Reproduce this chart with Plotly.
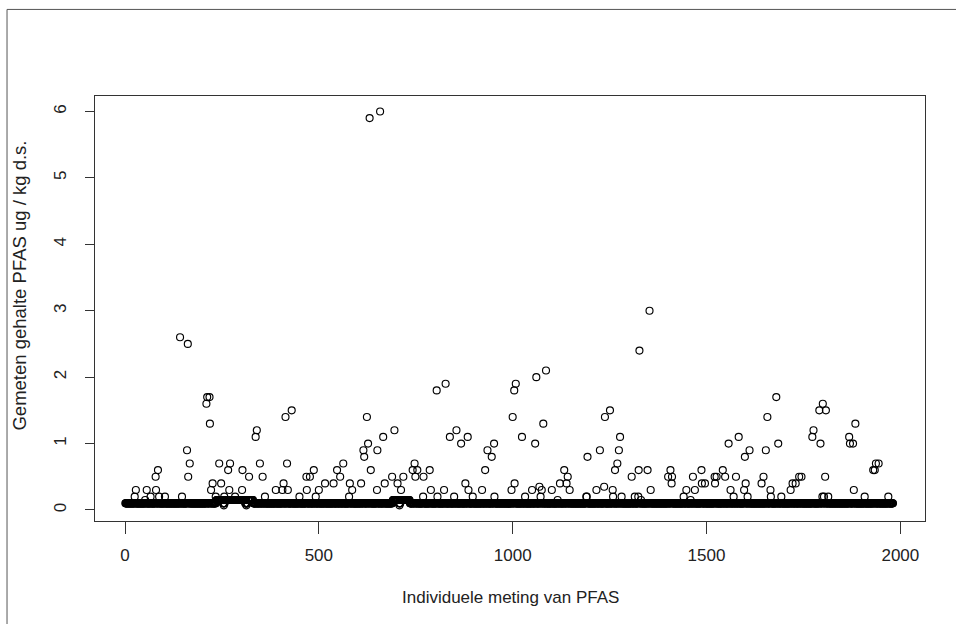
import plotly.graph_objects as go

# ---- data ----
n_measurements = 1981
baseline_value = 0.1

# stretches where the baseline sits slightly higher
raised_start = [236, 258, 317, 691, 711]
raised_end = [252, 309, 330, 706, 734]
raised_value = 0.15

# low points visible as notches under the raised stretches
low_index = [255, 313, 708]
low_value = [0.07, 0.07, 0.07]

# individual measurements above the baseline (index, value)
outlier_index = [
    142, 162, 212, 218, 210, 219, 160, 167, 163, 85, 79, 28, 25, 56, 80, 66, 103, 88, 147, 52,
    243, 271, 266, 303, 320, 226, 248, 222, 234, 269, 256, 284, 302, 340, 337, 348, 355, 361,
    414, 430, 418, 409, 389, 406, 420, 450,
    468, 477, 487, 469, 492, 500, 516, 538, 547, 563, 555, 580, 586, 578, 609, 624, 615, 617,
    627, 651, 666, 695, 634, 650, 670, 689, 703, 712, 718, 747, 742, 754, 749, 770, 786, 769,
    789, 804, 827, 806, 823, 838, 855, 867, 884, 849, 878, 886, 897, 921, 929, 935, 946, 952,
    953, 631, 658,
    1000, 1004, 1008, 1024, 1005, 997, 1032, 1050, 1058, 1061, 1086, 1079, 1069, 1075, 1072,
    1101, 1116, 1122, 1133, 1142, 1139, 1147, 1190, 1191, 1193, 1216, 1225, 1236, 1238, 1251,
    1258, 1259, 1264, 1270, 1274, 1277, 1281, 1307, 1315, 1324, 1331, 1325, 1327, 1348, 1353,
    1356, 1407, 1401, 1411, 1410, 1441, 1448, 1459, 1465, 1470, 1487, 1488, 1496,
    1521, 1526, 1522, 1542, 1548, 1576, 1562, 1570, 1557, 1583, 1597, 1601, 1606, 1599, 1611,
    1642, 1647, 1653, 1657, 1665, 1666, 1680, 1685, 1693, 1717, 1722, 1730, 1739, 1745, 1773,
    1776, 1794, 1791, 1808, 1800, 1806, 1799, 1803, 1814, 1868, 1870, 1878, 1884, 1880, 1908,
    1930, 1934, 1937, 1944, 1969,
]
outlier_value = [
    2.6, 2.5, 1.7, 1.7, 1.6, 1.3, 0.9, 0.7, 0.5, 0.6, 0.5, 0.3, 0.2, 0.3, 0.3, 0.2, 0.2, 0.2, 0.2, 0.15,
    0.7, 0.7, 0.6, 0.6, 0.5, 0.4, 0.4, 0.3, 0.2, 0.3, 0.2, 0.2, 0.3, 1.2, 1.1, 0.7, 0.5, 0.2,
    1.4, 1.5, 0.7, 0.4, 0.3, 0.3, 0.3, 0.2,
    0.5, 0.5, 0.6, 0.3, 0.2, 0.3, 0.4, 0.4, 0.6, 0.7, 0.5, 0.4, 0.3, 0.2, 0.4, 1.4, 0.9, 0.8,
    1.0, 0.9, 1.1, 1.2, 0.6, 0.3, 0.4, 0.5, 0.4, 0.3, 0.5, 0.7, 0.6, 0.6, 0.5, 0.5, 0.6, 0.2,
    0.3, 1.8, 1.9, 0.2, 0.3, 1.1, 1.2, 1.0, 1.1, 0.2, 0.4, 0.3, 0.2, 0.3, 0.6, 0.9, 0.8, 1.0,
    0.2, 5.9, 6.0,
    1.4, 1.8, 1.9, 1.1, 0.4, 0.3, 0.2, 0.3, 1.0, 2.0, 2.1, 1.3, 0.35, 0.3, 0.2,
    0.3, 0.15, 0.4, 0.6, 0.5, 0.4, 0.3, 0.2, 0.2, 0.8, 0.3, 0.9, 0.35, 1.4, 1.5,
    0.3, 0.2, 0.6, 0.7, 0.9, 1.1, 0.2, 0.5, 0.2, 0.2, 0.15, 0.6, 2.4, 0.6, 3.0,
    0.3, 0.6, 0.5, 0.5, 0.4, 0.2, 0.3, 0.15, 0.5, 0.3, 0.6, 0.4, 0.4,
    0.5, 0.5, 0.4, 0.6, 0.5, 0.5, 0.3, 0.2, 1.0, 1.1, 0.3, 0.4, 0.2, 0.8, 0.9,
    0.4, 0.5, 0.9, 1.4, 0.3, 0.2, 1.7, 1.0, 0.2, 0.3, 0.4, 0.4, 0.5, 0.5, 1.1,
    1.2, 1.0, 1.5, 1.5, 1.6, 0.5, 0.2, 0.2, 0.2, 1.1, 1.0, 1.0, 1.3, 0.3, 0.2,
    0.6, 0.6, 0.7, 0.7, 0.2,
]

x_tick_values = [0, 500, 1000, 1500, 2000]
y_tick_values = [0, 1, 2, 3, 4, 5, 6]
x_title = "Individuele meting van PFAS"
y_title = "Gemeten gehalte PFAS ug / kg d.s."

# ---- assemble the series ----
series = {i: baseline_value for i in range(1, n_measurements + 1)}
for s, e in zip(raised_start, raised_end):
    for i in range(s, e + 1):
        series[i] = raised_value
extra_x = list(low_index) + list(outlier_index)
extra_y = list(low_value) + list(outlier_value)
taken = set(outlier_index)
base_x = [i for i in range(1, n_measurements + 1) if i not in taken]
base_y = [series[i] for i in base_x]

marker = dict(symbol="circle-open", size=7, color="black", line=dict(width=1.15, color="black"))

fig = go.Figure()
fig.add_trace(go.Scatter(x=base_x, y=base_y, mode="markers", marker=marker, showlegend=False, hoverinfo="x+y"))
fig.add_trace(go.Scatter(x=extra_x, y=extra_y, mode="markers", marker=marker, showlegend=False, hoverinfo="x+y"))

font_family = "Liberation Sans, Arial, sans-serif"

fig.update_layout(
    width=956, height=624,
    margin=dict(l=95, r=31, t=96, b=103, autoexpand=False),
    paper_bgcolor="white", plot_bgcolor="white",
    font=dict(family=font_family, color="#222", size=17),
    xaxis=dict(
        range=[-77.4, 2063.6], tickvals=x_tick_values, ticks="outside", ticklen=12,
        tickwidth=1, tickcolor="#333", showgrid=False, zeroline=False, automargin=False,
        showline=True, linecolor="#333", linewidth=1, mirror=True, ticklabelstandoff=7,
        tickfont=dict(size=17, family=font_family, color="#222"),
    ),
    yaxis=dict(
        range=[-0.166, 6.233], tickvals=y_tick_values, ticks="outside", ticklen=9,
        tickwidth=1, tickcolor="#333", showgrid=False, zeroline=False, automargin=False,
        showline=True, linecolor="#333", linewidth=1, mirror=True, tickangle=-90,
        ticklabelstandoff=12,
        tickfont=dict(size=17, family=font_family, color="#222"),
    ),
    annotations=[
        dict(text=x_title, xref="paper", yref="paper", x=0.5, y=-0.1795, xanchor="center",
             yanchor="middle", showarrow=False, font=dict(size=17, family=font_family, color="#222")),
        dict(text=y_title, xref="paper", yref="paper", x=-0.0904, y=0.554, xanchor="center",
             yanchor="middle", textangle=-90, showarrow=False,
             font=dict(size=18.5, family=font_family, color="#222")),
    ],
    shapes=[
        dict(type="line", xref="paper", yref="paper", x0=-0.106, x1=1.2, y0=1.2037, y1=1.2037,
             line=dict(color="#555", width=1)),
        dict(type="line", xref="paper", yref="paper", x0=-0.106, x1=-0.106, y0=-0.5, y1=1.2037,
             line=dict(color="#555", width=1)),
    ],
)

fig.write_html("out.html", config={"displayModeBar": False},
               post_script="document.body.style.margin='0px';")
